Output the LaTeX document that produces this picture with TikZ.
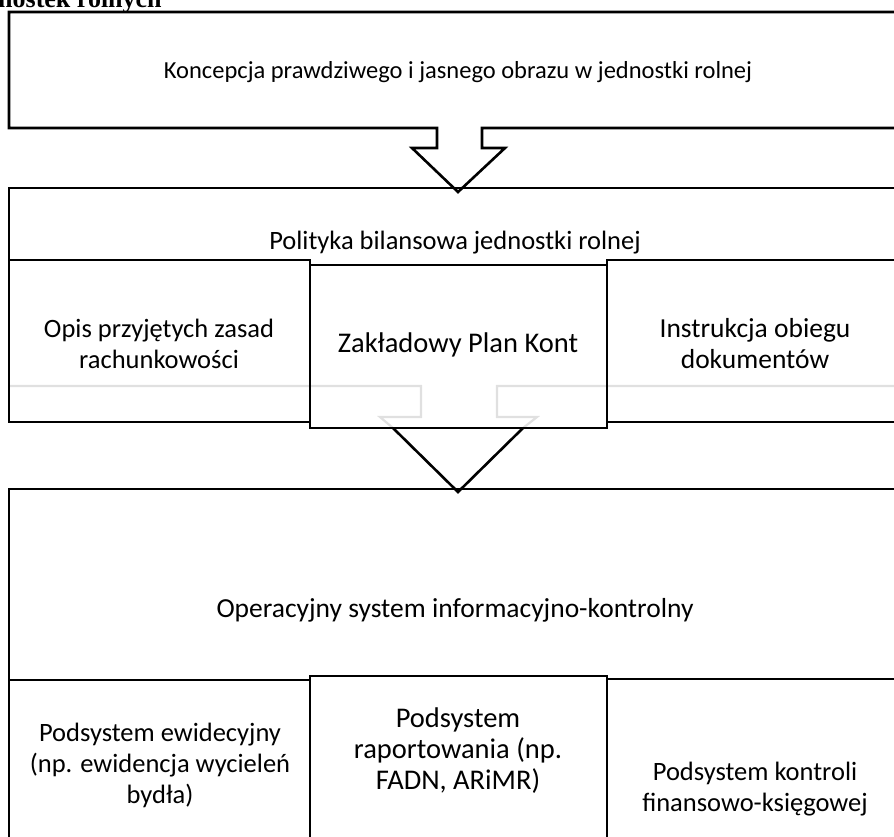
\documentclass[tikz,border=0pt]{standalone}
\usepackage{fontspec}
\setmainfont{Carlito}
\newfontfamily\titlefont{Liberation Serif}
\begin{document}
\begin{tikzpicture}[x=1pt,y=-1pt,
  blk/.style={line width=2.6pt, black, line join=miter},
  gry/.style={line width=2.2pt, color=black!12},
  lbl/.style={align=center, inner sep=0pt},
  fa/.style={font=\fontsize{24.5}{30.5}\selectfont},
  fb/.style={font=\fontsize{26.5}{30.5}\selectfont},
  fc/.style={font=\fontsize{27.5}{31}\selectfont},
  fd/.style={font=\fontsize{28.5}{31}\selectfont},
  ttl/.style={font=\titlefont\bfseries\fontsize{26}{30}\selectfont, inner sep=0pt, anchor=base west}]
\useasboundingbox (0,0) rectangle (894,836);
\clip (0,0) rectangle (894,836);
% title (cut off at top)
\node[ttl] (title) at (-2,7) {nostek rolnych};
% box 1 with block arrow
\draw[blk] (910,12) -- (9,12) -- (9,128) -- (437,128) -- (437,148) -- (412,148) -- (458,192)
  -- (505,148) -- (482,148) -- (482,128) -- (910,128);
\node[lbl,fa] (koncepcja) at (458,72) {Koncepcja prawdziwego i jasnego obrazu w jednostki rolnej};
% grey arrow outline
\draw[gry] (9,386) -- (421,386) -- (421,417) -- (380,417) -- (393,428);
\draw[gry] (910,386) -- (497,386) -- (497,417) -- (537,417) -- (523,428);
% box 2
\draw[blk] (910,188) -- (9,188) -- (9,422);
\draw[blk] (9,260) rectangle (310,422);
\draw[blk] (607,260) rectangle (910,422);
\draw[blk] (310,265) rectangle (607,428);
\draw[blk] (393,428) -- (458,492) -- (523,428);
\node[lbl,fb] (polityka) at (455,243) {Polityka bilansowa jednostki rolnej};
\node[lbl,fb] (opis) at (159,344) {Opis przyjętych zasad\\rachunkowości};
\node[lbl,fd] (zpk) at (458,345) {Zakładowy Plan Kont};
\node[lbl,fc] (instr) at (755,344) {Instrukcja obiegu\\dokumentów};
% box 3
\draw[blk] (910,489) -- (9,489) -- (9,850);
\draw[blk] (9,680) rectangle (310,850);
\draw[blk] (607,679) rectangle (910,850);
\draw[blk] (310,676) rectangle (607,850);
\node[lbl,fc] (oper) at (455,610) {Operacyjny system informacyjno-kontrolny};
\node[lbl,font=\fontsize{26.5}{31}\selectfont] (ewid) at (160,765) {Podsystem ewidecyjny\\(np. ewidencja wycieleń\\bydła)};
\node[lbl,fd] (rap) at (458,751) {Podsystem\\raportowania (np.\\FADN, ARiMR)};
\node[lbl,fb] (kontr) at (755,789) {Podsystem kontroli\\finansowo-księgowej};
\end{tikzpicture}
\end{document}
